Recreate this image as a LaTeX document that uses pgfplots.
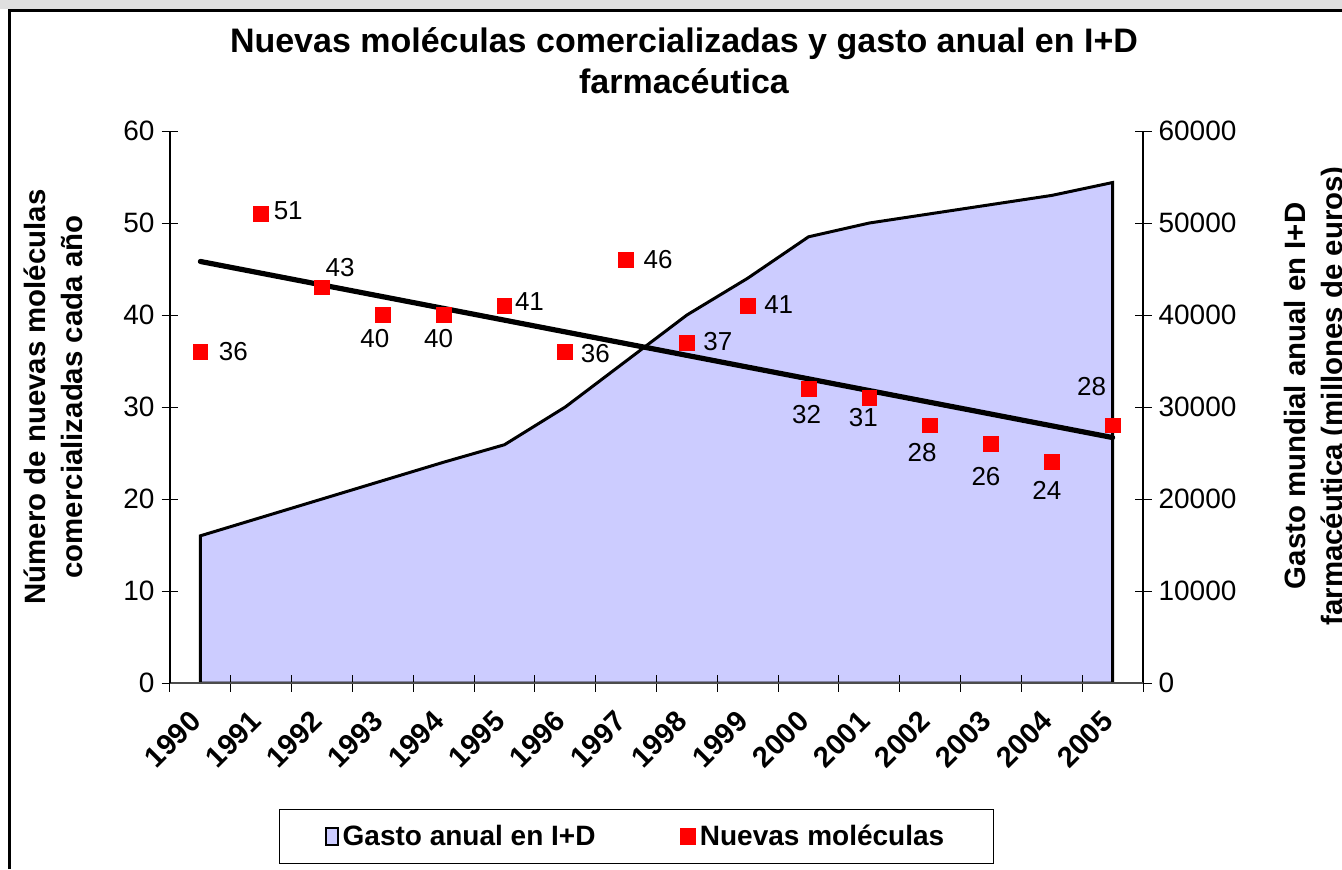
\documentclass[border=0pt]{standalone}
\usepackage{fontspec}
\setmainfont{Liberation Sans}
\usepackage{pgfplots}
\pgfplotsset{compat=1.18}
\definecolor{lav}{RGB}{204,204,255}

\pgfplotsset{
  base/.style={
    scale only axis, width=486.5pt, height=276pt,
    at={(85pt,93pt)}, anchor=south west,
    xmin=-0.5, xmax=15.5, ymin=0,
    tick align=center,
    major tick length=8.5pt, minor tick length=8.5pt,
    tick style={black, line width=0.5pt},
    /pgf/number format/assume math mode=true,
    /pgf/number format/1000 sep={},
    axis line style={-, line width=0.6pt},
    yticklabel style={font=\fontsize{14}{16}\selectfont},
  }
}

\begin{document}
\begin{tikzpicture}
\useasboundingbox (0,0) rectangle (671pt,434.5pt);
\fill[gray!25] (0,430pt) rectangle (671pt,434.5pt);
\draw[line width=1.6pt] (4.75pt,0) -- (4.75pt,429.25pt) -- (672pt,429.25pt);

\node[font=\bfseries\fontsize{17}{20.5}\selectfont, align=center] at (342pt,404pt)
  {Nuevas moléculas comercializadas y gasto anual en I+D\\farmacéutica};

% eje secundario: gasto en I+D (area)
\begin{axis}[base,
  axis x line=none, axis y line*=right,
  ymax=60000, ytick={0,10000,...,60000}, scaled y ticks=false,
  ylabel={Gasto mundial anual en I+D\\farmacéutica (millones de euros)},
  ylabel style={align=center, font=\bfseries\fontsize{14.7}{18.5}\selectfont,
    at={(axis description cs:1.178,0.52)}, anchor=center},
]
\addplot[fill=lav, draw=black, line width=1.5pt] coordinates {
  (0,16000) (1,18000) (2,20000) (3,22000) (4,24000) (5,25900) (6,30000) (7,35000)
  (8,40000) (9,44000) (10,48500) (11,50000) (12,51000) (13,52000) (14,53000) (15,54400)
} \closedcycle;
\end{axis}

% eje principal: nuevas moleculas
\begin{axis}[base,
  axis x line*=bottom, axis y line*=left,
  x axis line style={black!70},
  ymax=60, ytick={0,10,...,60},
  xtick={0,...,15},
  xticklabels={1990,1991,1992,1993,1994,1995,1996,1997,1998,1999,2000,2001,2002,2003,2004,2005},
  minor xtick={-0.5,0.5,...,15.5},
  major x tick style={draw=none},
  xticklabel shift=10pt,
  xticklabel style={rotate=45, anchor=east, font=\bfseries\fontsize{14.5}{17}\selectfont},
  ylabel={Número de nuevas moléculas\\comercializadas cada año},
  ylabel style={align=center, font=\bfseries\fontsize{14.7}{18.5}\selectfont,
    at={(axis description cs:-0.12,0.518)}, anchor=center},
  legend columns=2,
  legend style={at={(0.4794,-0.2781)}, anchor=center, draw=black, line width=0.6pt,
    font=\bfseries\fontsize{14}{16}\selectfont, inner xsep=22.5pt, inner ysep=5.5pt,
    /tikz/every even column/.append style={column sep=40pt}},
]
\addlegendimage{legend image code/.code={\draw[fill=lav, draw=black, line width=1pt] (0pt,-4.25pt) rectangle (6pt,4.25pt);}}
\addlegendentry{Gasto anual en I+D}

\addplot[black, line width=2.6pt, line cap=round, forget plot] coordinates {(0,45.82) (15,26.68)};

\addplot[only marks, mark=square*, mark size=3.7pt, color=red,
  nodes near coords, point meta=y,
  visualization depends on={value \thisrow{dx}\as\ldx},
  visualization depends on={value \thisrow{dy}\as\ldy},
  every node near coord/.append style={text=black, anchor=center,
    xshift=\ldx pt, yshift=\ldy pt, font=\fontsize{13}{15}\selectfont},
  legend image code/.code={\draw[red, fill=red] (0pt,-3.9pt) rectangle (7.6pt,3.9pt);}
] table {
x y dx dy
0 36 16.5 0
1 51 13.5 1.5
2 43 9 10
3 40 -4 -12
4 40 -2.5 -12
5 41 12.5 2
6 36 15 -1
7 46 16 0
8 37 15.5 0.5
9 41 15.5 0.5
10 32 -1 -13
11 31 -3 -10
12 28 -4 -13.5
13 26 -2.5 -16.5
14 24 -2.5 -14
15 28 -10.5 19.5
};
\addlegendentry{Nuevas moléculas}
\end{axis}
\end{tikzpicture}
\end{document}
